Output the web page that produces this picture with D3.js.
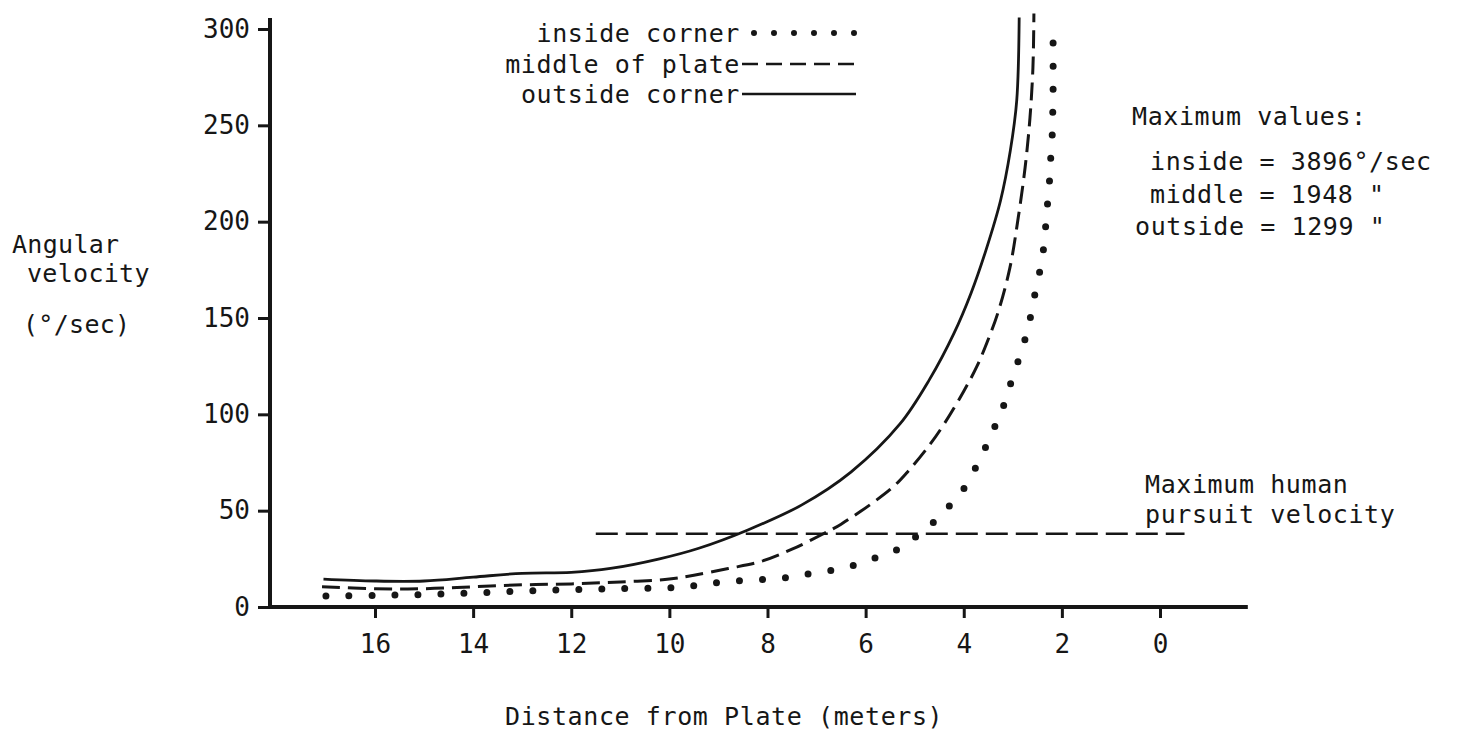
<!DOCTYPE html>
<html>
<head>
<meta charset="utf-8">
<script src="https://cdn.jsdelivr.net/npm/d3@7"></script>
<style>
  html, body { margin: 0; padding: 0; background: #ffffff; }
  svg { display: block; }
  text { font-family: "DejaVu Sans Mono", monospace; fill: #161616; }
</style>
</head>
<body>
<svg id="chart" width="1458" height="742"></svg>
<script>
// ---------------- data (distance in m, angular velocity in °/sec) ----------------
const xTickValues = [16, 14, 12, 10, 8, 6, 4, 2, 0];
const yTickValues = [0, 50, 100, 150, 200, 250, 300];

const outsideCorner = [
  [17.05, 14.5], [16.0, 13.5], [15.0, 13.5], [14.0, 15.5], [13.0, 17.5],
  [12.0, 18], [11.2, 20], [10.2, 25], [9.4, 30.5], [8.4, 40], [7.3, 53],
  [6.3, 70], [5.3, 95], [4.7, 118], [4.2, 142], [3.85, 163], [3.55, 185],
  [3.25, 211], [3.05, 237], [2.92, 263], [2.87, 306]
];
const middleOfPlate = [
  [17.08, 10.5], [16.0, 9.5], [15.0, 9.5], [14.0, 10.5], [13.0, 11.5],
  [12.0, 12], [11.0, 13], [10.0, 14.5], [9.5, 16.5], [8.8, 20], [8.15, 23.5],
  [7.5, 30], [6.9, 37.5], [6.5, 43], [5.5, 61], [5.15, 70], [4.7, 84],
  [4.4, 95], [4.0, 112], [3.73, 125], [3.5, 139], [3.3, 153], [3.06, 176],
  [2.89, 202], [2.75, 228], [2.65, 254], [2.59, 280], [2.57, 308]
];
const insideCorner = [
  [17.0, 5.7], [16.0, 6], [15.0, 6.5], [14.0, 7.3], [13.0, 8.3], [12.0, 9],
  [11.0, 9.5], [10.0, 10], [9.5, 11], [8.9, 13], [8.3, 14], [7.7, 15],
  [7.2, 17], [6.7, 19], [6.25, 21.5], [5.75, 26], [5.3, 30.5], [4.9, 38],
  [4.57, 45], [4.24, 54], [3.93, 64], [3.67, 77], [3.46, 88], [3.28, 99],
  [3.12, 109], [3.0, 120], [2.83, 132], [2.71, 143], [2.61, 154], [2.53, 165],
  [2.42, 178], [2.36, 189], [2.32, 201], [2.29, 210], [2.25, 222], [2.23, 232],
  [2.2, 243], [2.19, 253], [2.18, 264], [2.18, 302]
];
const pursuitRange = [11.5, -0.5];
const pursuitVelocity = 38;

const legendLabels = ["inside corner", "middle of plate", "outside corner"];
const maxValueLines = ["Maximum values:", "inside = 3896°/sec", "middle = 1948 \"", "outside = 1299 \""];
const pursuitLabel = ["Maximum human", "pursuit velocity"];
const yTitle = ["Angular", "velocity", "(°/sec)"];
const xTitle = "Distance from Plate (meters)";

// ---------------- layout ----------------
const ink = "#161616";
const svg = d3.select("#chart");

const x = d3.scaleLinear().domain([16, 0]).range([375, 1160]);
const y = d3.scaleLinear().domain([0, 300]).range([607, 29]);
const xExtent = [18.14, -1.79];
const yTop = 305.7;

// axis lines
svg.append("line")
  .attr("x1", x(xExtent[0])).attr("x2", x(xExtent[1]))
  .attr("y1", y(0)).attr("y2", y(0))
  .attr("stroke", ink).attr("stroke-width", 4);
svg.append("line")
  .attr("x1", x(xExtent[0])).attr("x2", x(xExtent[0]))
  .attr("y1", y(0) + 2).attr("y2", y(yTop))
  .attr("stroke", ink).attr("stroke-width", 4);

// x axis ticks
const xAxis = d3.axisBottom(x).tickValues(xTickValues).tickSize(11).tickPadding(10)
  .tickFormat(d3.format("d"));
const gx = svg.append("g").attr("transform", `translate(0,${y(0)})`).call(xAxis);
gx.select(".domain").remove();
gx.selectAll(".tick line").attr("stroke", ink).attr("stroke-width", 3);
gx.selectAll(".tick text").attr("font-size", 26).attr("fill", ink)
  .attr("font-family", "DejaVu Sans Mono, monospace").attr("dy", "0.95em");

// y axis ticks
const yAxis = d3.axisLeft(y).tickValues(yTickValues).tickSize(12).tickPadding(8)
  .tickFormat(d3.format("d"));
const gy = svg.append("g").attr("transform", `translate(${x(xExtent[0])},0)`).call(yAxis);
gy.select(".domain").remove();
gy.selectAll(".tick line").attr("stroke", ink).attr("stroke-width", 3);
gy.selectAll(".tick text").attr("font-size", 26).attr("fill", ink)
  .attr("font-family", "DejaVu Sans Mono, monospace");

// curves
const line = d3.line().x(d => x(d[0])).y(d => y(d[1])).curve(d3.curveCatmullRom.alpha(0.5));

svg.append("path").datum(outsideCorner).attr("d", line)
  .attr("fill", "none").attr("stroke", ink).attr("stroke-width", 2.8);
svg.append("path").datum(middleOfPlate).attr("d", line)
  .attr("fill", "none").attr("stroke", ink).attr("stroke-width", 3)
  .attr("stroke-dasharray", "18,8");
svg.append("path").datum(insideCorner).attr("d", line)
  .attr("fill", "none").attr("stroke", ink).attr("stroke-width", 7)
  .attr("stroke-linecap", "round").attr("stroke-dasharray", "0,23");

// pursuit velocity line
svg.append("line")
  .attr("x1", x(pursuitRange[0])).attr("x2", x(pursuitRange[1]))
  .attr("y1", y(pursuitVelocity)).attr("y2", y(pursuitVelocity))
  .attr("stroke", ink).attr("stroke-width", 2.6).attr("stroke-dasharray", "22,8");

// legend
const legendStyles = [
  { dash: "0,20", width: 6, cap: "round" },
  { dash: "16,8", width: 2.6, cap: "butt" },
  { dash: null, width: 2.4, cap: "butt" }
];
const legendBaselines = [42, 73, 103];
legendLabels.forEach((lab, i) => {
  svg.append("text").attr("x", 740).attr("y", legendBaselines[i])
    .attr("text-anchor", "end").attr("font-size", 25).attr("letter-spacing", 0.6)
    .text(lab);
  const st = legendStyles[i];
  const l = svg.append("line")
    .attr("x1", i === 0 ? 754 : 742).attr("x2", 856)
    .attr("y1", legendBaselines[i] - 9).attr("y2", legendBaselines[i] - 9)
    .attr("stroke", ink).attr("stroke-width", st.width).attr("stroke-linecap", st.cap);
  if (st.dash) l.attr("stroke-dasharray", st.dash);
});

// max values annotation
const maxX = [1132, 1150, 1150, 1135];
const maxY = [125, 170, 203, 235];
maxValueLines.forEach((t, i) => {
  svg.append("text").attr("x", maxX[i]).attr("y", maxY[i])
    .attr("font-size", 25).attr("letter-spacing", 0.6).text(t);
});

// pursuit label
[493, 523].forEach((by, i) => {
  svg.append("text").attr("x", 1145).attr("y", by)
    .attr("font-size", 25).attr("letter-spacing", 0.6).text(pursuitLabel[i]);
});

// y title
const yTitleX = [12, 27, 23];
const yTitleY = [253, 282, 333];
yTitle.forEach((t, i) => {
  svg.append("text").attr("x", yTitleX[i]).attr("y", yTitleY[i])
    .attr("font-size", 25).attr("letter-spacing", 0.3).text(t);
});

// x title
svg.append("text").attr("x", 505).attr("y", 725)
  .attr("font-size", 25).attr("letter-spacing", 0.6).text(xTitle);
</script>
</body>
</html>
